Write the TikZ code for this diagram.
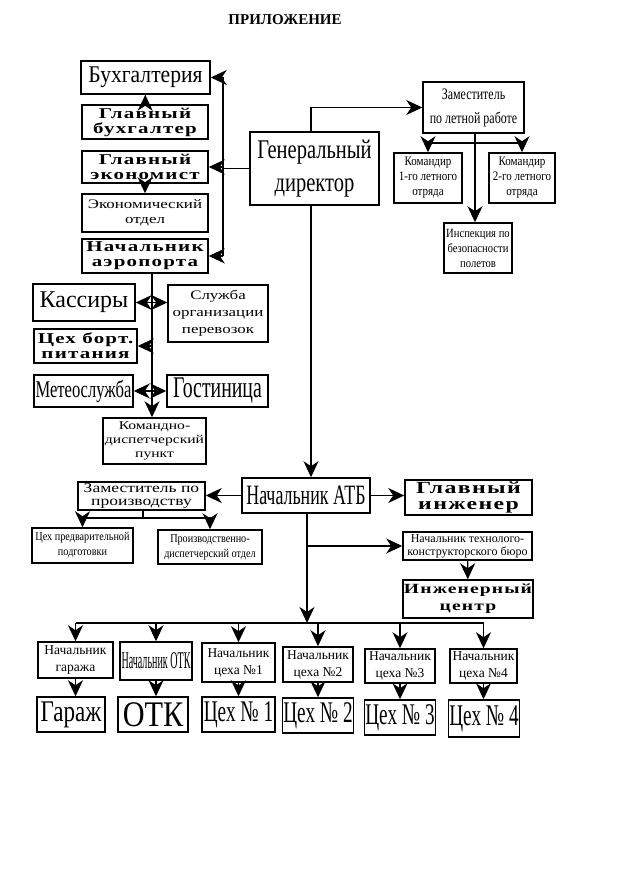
\documentclass[tikz,border=0pt]{standalone}
\usepackage{graphicx}
\usepackage{fontspec}
\setmainfont{Liberation Serif}
\newfontfamily\widefont[FakeStretch=1.4,LetterSpace=8]{Liberation Serif}
\newfontfamily\medfont[FakeStretch=1.3]{Liberation Serif}
\newfontfamily\condfont[FakeStretch=0.85]{Liberation Serif}
\usetikzlibrary{arrows.meta}
\newcommand{\narrow}[2]{\scalebox{#1}[1]{#2}}
\tikzset{
  box/.style={draw,line width=1.5pt,inner sep=1pt,align=center,fill=white},
  big node/.style={box,font=\fontsize{24}{26}\selectfont},
  wide node/.style={box,font=\widefont\bfseries\fontsize{15}{15}\selectfont},
  mid node/.style={box,font=\medfont\fontsize{13}{15}\selectfont},
  small node/.style={box,font=\condfont\fontsize{13}{15}\selectfont},
  line/.style={line width=1.3pt},
  arrow/.style={line,-{Stealth[length=16pt,width=15pt,inset=5pt]}}
}
\begin{document}
\begin{tikzpicture}[x=1pt,y=-1pt]
  \useasboundingbox (0,0) rectangle (623,882);
  \node[font=\bfseries\fontsize{15}{17}\selectfont] (title) at (285,20) {ПРИЛОЖЕНИЕ};

  % director and flight service
  \node[big node,font=\fontsize{27}{33}\selectfont,minimum width=129,minimum height=73] (gendir) at (314.5,168.5) {\narrow{0.76}{Генеральный}\\\narrow{0.76}{директор}};
  \node[small node,font=\condfont\fontsize{16}{24}\selectfont,minimum width=101,minimum height=51] (zamlet) at (473.5,107.5) {\narrow{0.88}{Заместитель}\\\narrow{0.88}{по летной работе}};
  \node[small node,minimum width=68,minimum height=50] (kom1) at (428,178) {Командир\\1-го летного\\отряда};
  \node[small node,minimum width=66,minimum height=50] (kom2) at (522,178) {Командир\\2-го летного\\отряда};
  \node[small node,font=\condfont\fontsize{12.5}{15}\selectfont,minimum width=68,minimum height=50] (insp) at (478,248) {Инспекция по\\безопасности\\полетов};

  % left column
  \node[big node,minimum width=129,minimum height=33] (buh) at (145.5,77.5) {\narrow{0.9}{Бухгалтерия}};
  \node[wide node,minimum width=126,minimum height=34] (glbuh) at (145,122) {Главный\\бухгалтер};
  \node[wide node,minimum width=126,minimum height=32] (glek) at (145,167) {Главный\\экономист};
  \node[mid node,minimum width=126,minimum height=38] (ekotd) at (145,213) {Экономический\\отдел};
  \node[wide node,minimum width=126,minimum height=34] (nachaer) at (145,256) {Начальник\\аэропорта};

  % airport services
  \node[big node,minimum width=102,minimum height=37] (kassa) at (84,302.5) {Кассиры};
  \node[mid node,font=\medfont\fontsize{13}{17}\selectfont,minimum width=100,minimum height=57] (sluzh) at (218,313.5) {Служба\\организации\\перевозок};
  \node[wide node,minimum width=103,minimum height=34] (cehbort) at (85.5,346) {Цех борт.\\питания};
  \node[big node,minimum width=99,minimum height=32] (meteo) at (83.5,391) {\narrow{0.69}{Метеослужба}};
  \node[big node,font=\fontsize{30}{30}\selectfont,minimum width=101,minimum height=32] (gost) at (217.5,391) {\narrow{0.66}{Гостиница}};
  \node[mid node,font=\medfont\fontsize{12}{14}\selectfont,minimum width=103,minimum height=46] (komdisp) at (154.5,441) {Командно-\\диспетчерский\\пункт};

  % maintenance base
  \node[big node,font=\fontsize{28}{30}\selectfont,minimum width=128,minimum height=35] (atb) at (306,495.5) {\narrow{0.64}{Начальник АТБ}};
  \node[mid node,font=\medfont\fontsize{13.5}{13}\selectfont,inner sep=0.5pt,minimum width=127,minimum height=28] (zampr) at (141.5,496) {Заместитель по\\производству};
  \node[wide node,font=\widefont\bfseries\fontsize{17}{16}\selectfont,inner sep=0.5pt,minimum width=127,minimum height=35] (glinzh) at (468.5,497.5) {Главный\\инженер};
  \node[small node,font=\condfont\fontsize{12}{15}\selectfont,minimum width=101,minimum height=35] (cehpred) at (82.5,545.5) {Цех предварительной\\подготовки};
  \node[small node,font=\condfont\fontsize{12}{15}\selectfont,minimum width=104,minimum height=34] (proizv) at (210,547) {Производственно-\\диспетчерский отдел};
  \node[box,font=\fontsize{12}{13}\selectfont,minimum width=129,minimum height=28] (nachtk) at (467.5,546) {Начальник технолого-\\конструкторского бюро};
  \node[wide node,font=\widefont\bfseries\fontsize{14}{17}\selectfont,minimum width=128,minimum height=38] (inzhc) at (468,599) {Инженерный\\центр};

  % workshop heads
  \node[box,font=\fontsize{13.5}{17}\selectfont,minimum width=75,minimum height=36] (nachgar) at (75.5,660) {Начальник\\гаража};
  \node[big node,minimum width=72,minimum height=38] (nachotk) at (156,661) {\narrow{0.42}{Начальник ОТК}};
  \node[box,font=\fontsize{13.5}{17}\selectfont,minimum width=73,minimum height=39] (nach1) at (238.5,662.5) {Начальник\\цеха №1};
  \node[box,font=\fontsize{13.5}{17}\selectfont,minimum width=70,minimum height=35] (nach2) at (318,664.5) {Начальник\\цеха №2};
  \node[box,font=\fontsize{13.5}{17}\selectfont,minimum width=70,minimum height=34] (nach3) at (400,666) {Начальник\\цеха №3};
  \node[box,font=\fontsize{13.5}{17}\selectfont,minimum width=67,minimum height=34] (nach4) at (483.5,666) {Начальник\\цеха №4};

  % workshops
  \node[big node,font=\fontsize{30}{32}\selectfont,minimum width=68,minimum height=35] (garazh) at (71,714.5) {\narrow{0.77}{Гараж}};
  \node[big node,font=\fontsize{36}{36}\selectfont,minimum width=70,minimum height=35] (otk) at (153,714.5) {\narrow{0.84}{ОТК}};
  \node[big node,font=\fontsize{30}{32}\selectfont,minimum width=73,minimum height=35] (ceh1) at (238.5,714.5) {\narrow{0.64}{Цех № 1}};
  \node[big node,font=\fontsize{30}{32}\selectfont,minimum width=70,minimum height=35] (ceh2) at (318,715.5) {\narrow{0.64}{Цех № 2}};
  \node[big node,font=\fontsize{30}{32}\selectfont,minimum width=70,minimum height=35] (ceh3) at (400,717.5) {\narrow{0.64}{Цех № 3}};
  \node[big node,font=\fontsize{30}{32}\selectfont,minimum width=68,minimum height=37] (ceh4) at (484,718.5) {\narrow{0.64}{Цех № 4}};

  \coordinate (trunk) at (311,300);
  \coordinate (fork1) at (475,143);
  \coordinate (bus) at (223,167);
  \coordinate (spine) at (152,350);
  \coordinate (fork2) at (143,518);
  \coordinate (branch) at (307,546);
  \coordinate (bus2) at (307,623);

  % director links
  \draw[arrow] (gendir.north -| trunk) |- (zamlet.west);
  \draw[arrow] (gendir.south -| trunk) -- (atb.north -| trunk);
  \draw[line] (zamlet.south -| fork1) -- (fork1);
  \draw[arrow] (fork1) -| (kom1.north);
  \draw[arrow] (fork1) -| (kom2.north);
  \draw[arrow] (fork1) -- (insp.north -| fork1);
  \draw[line] (gendir.west) -- (gendir.west -| bus);
  \draw[line] (buh.east -| bus) -- (nachaer.east -| bus);
  \draw[arrow] (buh.east -| bus) -- (buh.east);
  \draw[arrow] (glek.east -| bus) -- (glek.east);
  \draw[arrow] (nachaer.east -| bus) -- (nachaer.east);
  \path[arrow] (glbuh) edge (buh)
               (glek) edge (ekotd);

  % airport links
  \draw[arrow] (nachaer.south -| spine) -- (komdisp.north -| spine);
  \draw[arrow] (kassa.east -| spine) -- (kassa.east);
  \draw[arrow] (kassa.east -| spine) -- (kassa.east -| sluzh.west);
  \draw[arrow] (cehbort.east -| spine) -- (cehbort.east);
  \draw[arrow] (meteo.east -| spine) -- (meteo.east);
  \draw[arrow] (meteo.east -| spine) -- (meteo.east -| gost.west);

  % base links
  \draw[arrow] (atb.west) -- (atb.west -| zampr.east);
  \draw[arrow] (atb.east) -- (atb.east -| glinzh.west);
  \draw[line] (zampr.south -| fork2) -- (fork2);
  \draw[arrow] (fork2) -| (cehpred.north);
  \draw[arrow] (fork2) -| (proizv.north);
  \draw[arrow] (atb.south -| bus2) -- (bus2);
  \draw[arrow] (branch) -- (branch -| nachtk.west);
  \path[arrow] (nachtk) edge (inzhc);

  % workshop links
  \draw[line] (nachgar.north |- bus2) -- (nach4.north |- bus2);
  \draw[arrow] (nachgar.north |- bus2) -- (nachgar.north);
  \draw[arrow] (nachotk.north |- bus2) -- (nachotk.north);
  \draw[arrow] (nach1.north |- bus2) -- (nach1.north);
  \draw[arrow] (nach2.north |- bus2) -- (nach2.north);
  \draw[arrow] (nach3.north |- bus2) -- (nach3.north);
  \draw[arrow] (nach4.north |- bus2) -- (nach4.north);
  \draw[arrow] (nachgar.south) -- (nachgar.south |- garazh.north);
  \draw[arrow] (nachotk.south) -- (nachotk.south |- otk.north);
  \draw[arrow] (nach1.south) -- (nach1.south |- ceh1.north);
  \draw[arrow] (nach2.south) -- (nach2.south |- ceh2.north);
  \draw[arrow] (nach3.south) -- (nach3.south |- ceh3.north);
  \draw[arrow] (nach4.south) -- (nach4.south |- ceh4.north);
\end{tikzpicture}
\end{document}
